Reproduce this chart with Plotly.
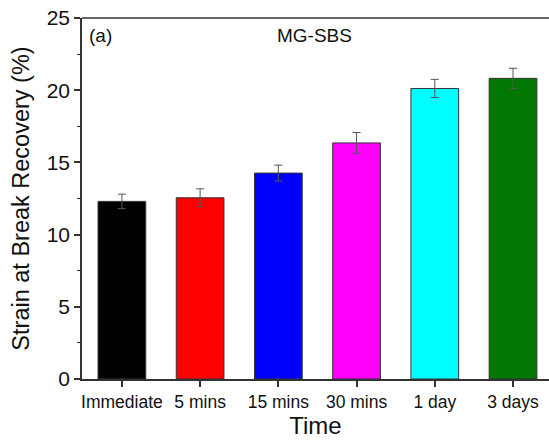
import plotly.graph_objects as go

categories = ["Immediate", "5 mins", "15 mins", "30 mins", "1 day", "3 days"]
values = [12.3, 12.55, 14.26, 16.35, 20.12, 20.82]
errors = [0.5, 0.62, 0.55, 0.72, 0.63, 0.7]
colors = ["#000000", "#ff0000", "#0000ff", "#ff00ff", "#00ffff", "#007800"]
y_ticks = [0, 5, 10, 15, 20, 25]

FONT = "Liberation Sans, Arial, sans-serif"

fig = go.Figure()
fig.add_trace(go.Bar(
    x=list(range(len(categories))),
    y=values,
    width=0.61,
    marker=dict(color=colors, line=dict(color="#333333", width=1)),
    error_y=dict(type="data", array=errors, visible=True, color="#555555",
                 thickness=1, width=4),
    showlegend=False,
))

fig.update_layout(
    width=549, height=441,
    margin=dict(l=82, r=0, t=18, b=62),
    paper_bgcolor="white", plot_bgcolor="white",
    font=dict(family=FONT, color="#111111"),
    bargap=0.39,
    xaxis=dict(
        range=[-0.51, 5.46],
        tickmode="array", tickvals=list(range(len(categories))), ticktext=categories,
        showline=True, linecolor="#333333", linewidth=1.5,
        ticks="outside", ticklen=6, tickwidth=1.5, tickcolor="#333333",
        tickfont=dict(size=17.5, family=FONT),
        title=dict(text="Time", font=dict(size=24, family=FONT), standoff=4),
        showgrid=False, zeroline=False,
    ),
    yaxis=dict(
        range=[0, 25],
        tickmode="array", tickvals=y_ticks,
        showline=True, linecolor="#333333", linewidth=1.5,
        ticks="outside", ticklen=6, tickwidth=1.5, tickcolor="#333333",
        minor=dict(ticks="outside", ticklen=3, tickwidth=1, tickcolor="#333333", dtick=2.5, showgrid=False),
        tickfont=dict(size=21, family=FONT),
        title=dict(text="Strain at Break Recovery (%)", font=dict(size=23.5, family=FONT), standoff=10),
        showgrid=False, zeroline=False,
    ),
    shapes=[dict(type="line", xref="paper", yref="paper", x0=0, x1=1, y0=1, y1=1,
                 line=dict(color="#333333", width=1.5))],
    annotations=[
        dict(text="(a)", xref="paper", yref="paper", x=0.01, y=0.985, xanchor="left", yanchor="top",
             showarrow=False, font=dict(size=19, family=FONT)),
        dict(text="MG-SBS", xref="paper", yref="paper", x=0.497, y=0.985, xanchor="center", yanchor="top",
             showarrow=False, font=dict(size=19, family=FONT)),
    ],
)

fig.write_html("out.html")
